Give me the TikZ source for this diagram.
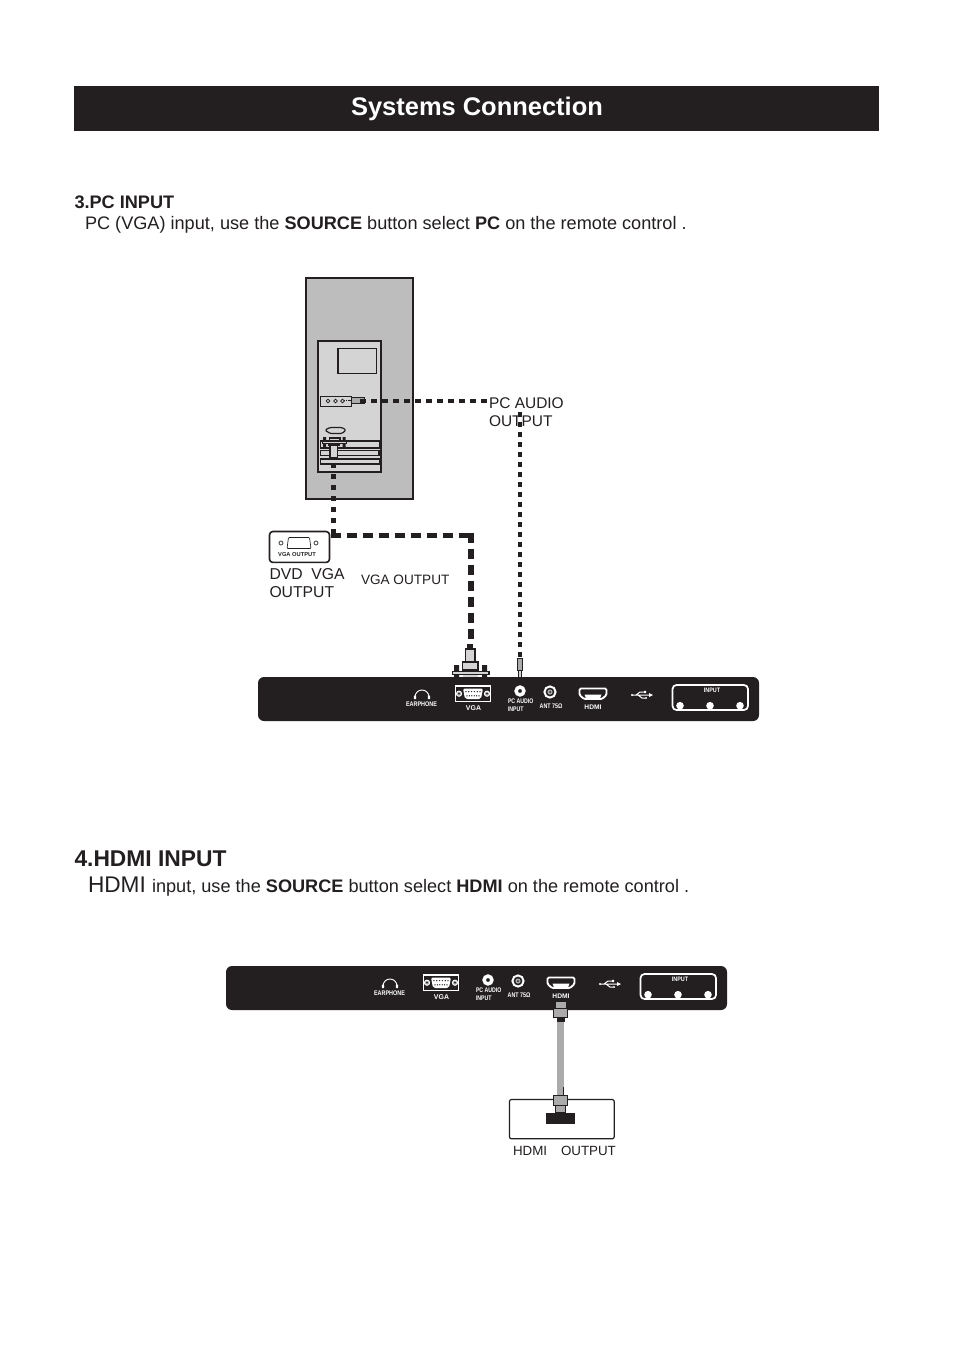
\documentclass[tikz,border=0pt]{standalone}
\usepackage{fontspec}
\setmainfont{Liberation Sans}
\definecolor{ink}{HTML}{231F20}
\definecolor{towerg}{HTML}{BDBDBD}
\definecolor{frontg}{HTML}{D4D4D4}
\definecolor{plugg}{HTML}{ABABAB}
\newcommand{\fsz}[1]{\fontsize{#1}{#1}\selectfont}
\newcommand{\nar}[2]{\scalebox{#1}[1]{#2}}
\tikzset{
  x=0.75pt,y=-0.75pt,
  every node/.style={inner sep=0pt,outer sep=0pt,text=ink},
  txt/.style={anchor=base west,font=\fsz{13.6}},
  lab/.style={anchor=base west,font=\fsz{10}},
  tiny/.style={anchor=base,text=white,font=\fsz{5}\bfseries},
  plug/.style={draw=ink,line width=0.7pt,fill=plugg},
  plugw/.style={draw=ink,line width=0.8pt,fill=frontg},
  wline/.style={draw=white,line width=0.9pt},
  thickdash/.style={draw=ink,line width=4.4pt,dash pattern=on 7.5pt off 4.5pt},
  thickdashv/.style={draw=ink,line width=4.4pt,dash pattern=on 3.75pt off 4.5pt},
  audiodashh/.style={draw=ink,line width=3pt,dash pattern=on 4.5pt off 3.75pt},
  audiodashv/.style={draw=ink,line width=3pt,dash pattern=on 3.8pt off 3.7pt},
  pics/panel/.style={code={
    \fill[ink,rounded corners=4.5pt] (0,0) rectangle (501,44);
    % earphone
    \draw[wline,line width=0.7pt] (157,20) arc (180:360:7);
    \fill[white] (155.8,18.5) rectangle (158.2,22) (169.8,18.5) rectangle (172.2,22);
    \node[tiny] (earph) at (163.5,29.6) {\nar{0.82}{EARPHONE}};
    % VGA
    \draw[wline,line width=1.1pt] (197.6,9) rectangle (232.6,24.5);
    \fill[white,rounded corners=1.5pt] (205,11.5) -- (225,11.5) -- (223,22) -- (207,22) -- cycle;
    \foreach \q in {0,1,2,3,4,5}{\fill[ink] (208+\q*2.8,14.6) circle (0.7);\fill[ink] (209+\q*2.4,18.8) circle (0.7);}
    \draw[white,line width=0.7pt,fill=plugg] (201,16.7) circle (2.6) (229,16.7) circle (2.6);
    \fill[ink] (201,16.7) circle (1) (229,16.7) circle (1);
    \node[tiny,font=\fsz{5.2}\bfseries] (vgat) at (215.5,33.7) {VGA};
    % audio
    \draw[white,line width=2.6pt] (262,14) circle (3.9);
    \node[tiny,anchor=base west] (audiot1) at (250,26.5) {\nar{0.78}{PC AUDIO}};
    \node[tiny,anchor=base west] (audiot2) at (250,34.5) {\nar{0.78}{INPUT}};
    % ant
    \draw[white,line width=1.5pt] (292,15) circle (5.6);
    \fill[plugg] (292,15) circle (2.6);
    \fill[ink] (292,15) circle (1);
    \node[tiny] (antt) at (293,31) {\nar{0.8}{ANT 75Ω}};
    % hdmi
    \draw[white,line width=1.4pt,rounded corners=1pt] (321.5,11.5) -- (348.5,11.5) -- (348.5,18) -- (344,22) -- (326,22) -- (321.5,18) -- cycle;
    \fill[white] (326.5,17.5) -- (343.5,17.5) -- (342,21.5) -- (328,21.5) -- cycle;
    \node[tiny] (hdmit) at (335,32) {HDMI};
    % usb
    \draw[white,line width=0.75pt] (374,18) -- (392,18) (378,18) -- (382,15) -- (386,15) (380,18) -- (384,21) -- (387,21);
    \fill[white] (391,16) -- (395,18) -- (391,20) -- cycle (374,18) circle (1.2) (386,13.8) rectangle (388.2,16.2) (388,21) circle (1.2);
    % input
    \draw[white,line width=1.3pt,rounded corners=3pt] (414.5,8) rectangle (490,33);
    \node[tiny,font=\fsz{4.8}\bfseries] (inputt) at (454,15.6) {\nar{0.85}{INPUT}};
    \fill[white] (422,28.7) circle (3.8) (452,28.7) circle (3.8) (482,28.7) circle (3.8);
  }},
}
\begin{document}
\begin{tikzpicture}
\useasboundingbox (0,0) rectangle (953,1352);
\fill[white] (0,0) rectangle (953,1352);
% title
\fill[ink] (74,86) rectangle (879,131);
\node[anchor=base,font=\fsz{19.1}\bfseries,text=white] (title) at (477,116) {Systems Connection};
% section 3
\node[txt,font=\fsz{13.6}\bfseries] (h3) at (74.5,209) {3.PC INPUT};
\node[txt] (d3) at (85,229) {PC (VGA) input, use the \textbf{SOURCE} button select \textbf{PC} on the remote control .};
% tower
\draw[fill=towerg,draw=ink,line width=1pt] (306,278) rectangle (413,499);
\draw[fill=frontg,draw=ink,line width=1.2pt] (318,341) rectangle (381,472);
\draw[draw=ink,line width=1pt] (338,348.5) rectangle (376.5,373.5);
\draw[draw=ink,line width=0.9pt,fill=frontg] (320.5,396.5) rectangle (351.5,406.5);
\foreach \q in {328,335.5,342.5}{\draw[ink,line width=0.5pt] (\q,401) circle (1.8);}
\draw[ink,line width=0.5pt,dash pattern=on 1pt off 0.6pt] (344,400.5) -- (352,400.5);
\draw[plug] (351.5,397.5) rectangle (364,403.5);
\draw[draw=ink,line width=0.9pt] (320.5,441) rectangle (380,448) (320.5,450.5) rectangle (379,455.5) (320.5,459) rectangle (380,464);
\draw[draw=ink,line width=0.9pt,rounded corners=1pt] (325,430) -- (330,427.5) -- (342,427.5) -- (346,430) -- (342,433.5) -- (330,433.5) -- cycle;
\fill[ink] (323,437) rectangle (326,447) (342.5,437) rectangle (345.5,447);
\draw[plugw] (329.5,438) rectangle (340,441);
\draw[plugw] (322.5,441) rectangle (346.5,443.5);
\draw[plugw] (329,443.5) rectangle (339,445);
\draw[plugw] (330,445) rectangle (337.5,457.5);
\coordinate (pcaudio) at (360,401);
\coordinate (pcvga) at (333.5,463);
\coordinate (vgaturn) at (333.5,535.5);
\coordinate (vgaturna) at (330.5,535.5);
\coordinate (vgaturn2) at (471,535.5);
\coordinate (vgaturnb) at (471,532.5);
% text around
\node[anchor=base west,font=\fsz{11.6}] (pa1) at (489,408) {PC AUDIO};
\node[anchor=base west,font=\fsz{11.6}] (pa2) at (489,426) {OUTPUT};
% DVD VGA box
\node[draw=ink,line width=1.2pt,rounded corners=2.5pt,minimum width=45pt,minimum height=23.2pt,anchor=north west] (dvdbox) at (269.5,531.5) {};
\draw[ink,line width=0.5pt,rounded corners=0.6pt] (288.5,537.5) -- (309.5,537.5) -- (311,548.5) -- (287,548.5) -- cycle;
\draw[ink,line width=0.5pt] (281,543) circle (2) (316,543) circle (2);
\node[anchor=base,font=\fsz{4.3}\bfseries] (dvdt) at (297,556.5) {VGA OUTPUT};
\node[anchor=base west,font=\fsz{11.8}] (dvd1) at (269.5,579.5) {DVD\ \ VGA};
\node[anchor=base west,font=\fsz{11.8}] (dvd2) at (269.5,597.5) {OUTPUT};
\node[lab,font=\fsz{10.2}] (vo) at (361,584.5) {VGA OUTPUT};
% panel 1
\pic (pa) at (258,677) {panel};
% vga plug
\fill[ink] (467,644) rectangle (473,649);
\draw[plugw] (465.5,649) rectangle (475,662);
\draw[plugw] (462.5,662) rectangle (478,670);
\fill[ink] (454,665) rectangle (459,677) (482,665) rectangle (487,677);
\draw[plugw] (452.5,671.5) rectangle (489,674.5);
\fill[frontg] (463,674.9) rectangle (478,677);
% audio plug
\draw[plug] (517.5,658) rectangle (522.5,670);
\draw[ink,line width=0.6pt,fill=frontg] (518.5,670) rectangle (521.5,677);
\coordinate (audtop) at (520,412);
\coordinate (audbot) at (520,657);
\coordinate (audturn) at (487,401);
\coordinate (vgabot) at (471,644);
\path[thickdashv] (pcvga) -- (vgaturn);
\path[thickdash] (vgaturna) -- (vgaturn2);
\path[thickdash] (vgaturnb) -- (vgabot);
\path[audiodashh] (pcaudio) -- (audturn);
\path[audiodashv] (audtop) -- (audbot);
% section 4
\node[txt,font=\fsz{17.1}\bfseries] (h4) at (74.5,866) {4.HDMI INPUT};
\node[txt] (d4) at (88,892) {{\fsz{17}HDMI}};
\node[txt] (d4b) at (152,892) {input, use the \textbf{SOURCE} button select \textbf{HDMI} on the remote control .};
% panel 2
\pic (pb) at (226,966) {panel};
% HDMI cable
\fill[plugg] (556,1002) rectangle (566,1008);
\draw[plug] (553.5,1008) rectangle (567.5,1017);
\fill[ink] (557,1017) rectangle (565,1022);
\coordinate (cabtop) at (560.5,1022);
\coordinate (cabbot) at (560.5,1095);
\path[draw=plugg,line width=5.2pt] (cabtop) -- (cabbot);
\node[draw=ink,line width=0.9pt,rounded corners=1.5pt,minimum width=78.5pt,minimum height=29.5pt,anchor=north west,fill=white] (hdmibox) at (509.5,1099.5) {};
\draw[ink,line width=0.7pt] (563.5,1087) -- (563.5,1095);
\fill[ink] (546,1113) rectangle (575,1123.5);
\draw[plug] (553.5,1095) rectangle (567.5,1105);
\draw[plug] (555.5,1105) rectangle (565.5,1112);
\node[lab] (ho1) at (513,1155) {HDMI};
\node[lab] (ho2) at (561,1155) {OUTPUT};
\end{tikzpicture}
\end{document}
